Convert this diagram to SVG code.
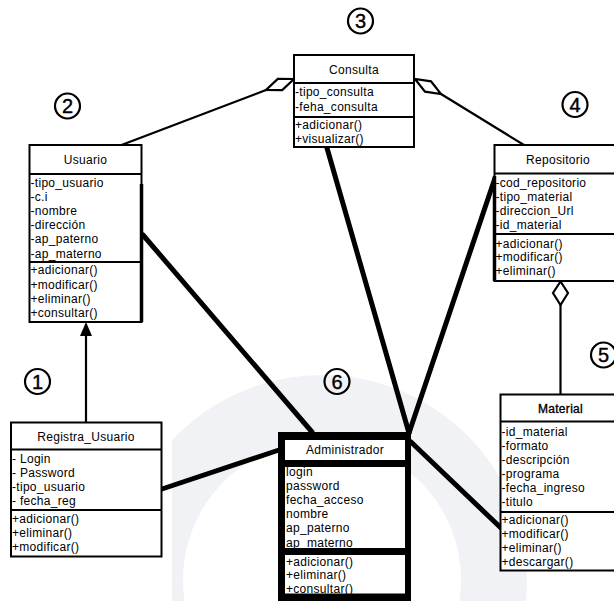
<svg xmlns="http://www.w3.org/2000/svg" width="614" height="601" viewBox="0 0 614 601">
  <style>
    text { font-family: "Liberation Sans", Arial, sans-serif; font-size: 12px; fill: #000; letter-spacing: 0.3px; }
    .title { text-anchor: middle; }
    .dark { stroke: #000; stroke-width: 0.35px; }
    .box { fill: #fff; stroke: #000; stroke-width: 2; }
    .sep { stroke: #000; stroke-width: 2; }
    .edge { stroke: #000; stroke-width: 3.5; }
    .thin { stroke: #000; stroke-width: 2.2; fill: none; }
    .thick { stroke: #000; stroke-width: 5; stroke-linecap: round; fill: none; }
    .hollow { fill: #fff; stroke: #000; stroke-width: 2.2; stroke-linejoin: miter; }
    .badge circle { fill: none; stroke: #000; stroke-width: 2.2; }
    .badge text { font-size: 20px; text-anchor: middle; letter-spacing: 0; stroke: #000; stroke-width: 0.4px; }
  </style>

  <!-- faint seal in the background, cut off on the left -->
  <circle cx="322" cy="580" r="172" fill="none" stroke="#f0f2f6" stroke-width="66"/>
  <rect x="0" y="360" width="172" height="241" fill="#fff"/>

  <!-- connectors -->
  <g id="connectors">
    <!-- Consulta aggregations -->
    <line class="thin" x1="121.5" y1="145" x2="266" y2="90"/>
    <polygon class="hollow" points="294,79 282.2,90.1 266,90 277.8,78.9"/>
    <line class="thin" x1="441" y1="94" x2="524" y2="145"/>
    <polygon class="hollow" points="415,79 425,91.7 441,94 431,81.3"/>
    <!-- Registra_Usuario generalizes Usuario -->
    <line class="thin" x1="86" y1="422.5" x2="86" y2="334"/>
    <polygon points="86,322 80,336 92,336" fill="#000"/>
    <!-- Repositorio aggregates Material -->
    <line class="thin" x1="560.5" y1="305" x2="560.5" y2="394.5"/>
    <polygon class="hollow" points="560.5,281.5 553,293 560.5,305 568,293"/>
    <!-- Administrador associations -->
    <line class="thick" x1="143" y1="235" x2="312" y2="432"/>
    <line class="thick" x1="327" y1="148" x2="409" y2="433"/>
    <line class="thick" x1="409" y1="433" x2="495" y2="178"/>
    <line class="thick" x1="411" y1="442" x2="501" y2="528"/>
    <line class="thick" x1="162" y1="489" x2="279" y2="450"/>
  </g>

  <!-- Consulta -->
  <g id="consulta">
    <rect class="box" x="294" y="55" width="120" height="92"/>
    <line class="sep" x1="294" y1="83" x2="414" y2="83"/>
    <line class="sep" x1="294" y1="117" x2="414" y2="117"/>
    <text class="title" x="354" y="74">Consulta</text>
    <text x="295" y="96">-tipo_consulta</text>
    <text x="295" y="110.5">-feha_consulta</text>
    <text x="295" y="129">+adicionar()</text>
    <text x="295" y="143.3">+visualizar()</text>
  </g>

  <!-- Usuario -->
  <g id="usuario">
    <rect class="box" x="29.5" y="145" width="112" height="177"/>
    <line class="sep" x1="29.5" y1="174" x2="141.5" y2="174"/>
    <line class="sep" x1="29.5" y1="262" x2="141.5" y2="262"/>
    <line class="edge" x1="141.5" y1="184" x2="141.5" y2="322"/>
    <text class="title" x="85.5" y="163.5">Usuario</text>
    <text x="30.5" y="186.5">-tipo_usuario</text>
    <text x="30.5" y="200.7">-c.i</text>
    <text x="30.5" y="214.9">-nombre</text>
    <text x="30.5" y="229.1">-dirección</text>
    <text x="30.5" y="243.3">-ap_paterno</text>
    <text x="30.5" y="257.5">-ap_materno</text>
    <text x="30.5" y="274.3">+adicionar()</text>
    <text x="30.5" y="288.5">+modificar()</text>
    <text x="30.5" y="302.7">+eliminar()</text>
    <text x="30.5" y="316.9">+consultar()</text>
  </g>

  <!-- Repositorio -->
  <g id="repositorio">
    <rect class="box" x="494.5" y="145" width="125" height="136"/>
    <line class="sep" x1="494.5" y1="173.5" x2="619.5" y2="173.5"/>
    <line class="sep" x1="494.5" y1="234" x2="619.5" y2="234"/>
    <line class="edge" x1="494.5" y1="176" x2="494.5" y2="281"/>
    <text class="title" x="558" y="163.5">Repositorio</text>
    <text x="495.5" y="186.7">-cod_repositorio</text>
    <text x="495.5" y="201.2">-tipo_material</text>
    <text x="495.5" y="215.2">-direccion_Url</text>
    <text x="495.5" y="229.4">-id_material</text>
    <text x="495.5" y="247.5">+adicionar()</text>
    <text x="495.5" y="261">+modificar()</text>
    <text x="495.5" y="275">+eliminar()</text>
  </g>

  <!-- Registra_Usuario -->
  <g id="registra-usuario">
    <rect class="box" x="11" y="422.5" width="150.5" height="134"/>
    <line class="sep" x1="11" y1="449.5" x2="161.5" y2="449.5"/>
    <line class="sep" x1="11" y1="510" x2="161.5" y2="510"/>
    <text class="title" x="86" y="441">Registra_Usuario</text>
    <text x="12" y="463">- Login</text>
    <text x="12" y="477">- Password</text>
    <text x="12" y="491.3">-tipo_usuario</text>
    <text x="12" y="505.3">- fecha_reg</text>
    <text x="12" y="523.3">+adicionar()</text>
    <text x="12" y="537.3">+eliminar()</text>
    <text x="12" y="551.3">+modificar()</text>
  </g>

  <!-- Material -->
  <g id="material">
    <rect class="box" x="500.5" y="394.5" width="120" height="176"/>
    <line class="sep" x1="500.5" y1="421.5" x2="620.5" y2="421.5"/>
    <line class="sep" x1="500.5" y1="512" x2="620.5" y2="512"/>
    <text class="title dark" x="560.5" y="412.5">Material</text>
    <text x="501.5" y="435.5">-id_material</text>
    <text x="501.5" y="450">-formato</text>
    <text x="501.5" y="464">-descripción</text>
    <text x="501.5" y="478">-programa</text>
    <text x="501.5" y="491.7">-fecha_ingreso</text>
    <text x="501.5" y="505.7">-titulo</text>
    <text x="501.5" y="523.5">+adicionar()</text>
    <text x="501.5" y="537.5">+modificar()</text>
    <text x="501.5" y="551.5">+eliminar()</text>
    <text x="501.5" y="565.7">+descargar()</text>
  </g>

  <!-- Administrador: heavy frame with white compartments -->
  <g id="administrador">
    <rect x="278" y="432" width="133" height="172" fill="#000"/>
    <rect x="285" y="440" width="120" height="20" fill="#fff"/>
    <rect x="285" y="467" width="120" height="81" fill="#fff"/>
    <text class="title" x="345" y="453.5">Administrador</text>
    <text x="286" y="475.7">login</text>
    <text x="286" y="490">password</text>
    <text x="286" y="504">fecha_acceso</text>
    <text x="286" y="518">nombre</text>
    <text x="286" y="532.3">ap_paterno</text>
    <text x="286" y="546.5">ap_materno</text>
    <rect x="278" y="548" width="133" height="7" fill="#000"/>
    <rect x="285" y="555" width="120" height="38.5" fill="#fff"/>
    <text x="286" y="565.5">+adicionar()</text>
    <text x="286" y="579">+eliminar()</text>
    <text x="286" y="593">+consultar()</text>
  </g>

  <!-- numbered markers -->
  <g id="badge-1" class="badge"><circle cx="37.5" cy="381.5" r="12.5"/><text x="37.5" y="388.7">1</text></g>
  <g id="badge-2" class="badge"><circle cx="67.5" cy="106" r="12.5"/><text x="67.5" y="113.2">2</text></g>
  <g id="badge-3" class="badge"><circle cx="360.5" cy="21" r="12.5"/><text x="360.5" y="28.2">3</text></g>
  <g id="badge-4" class="badge"><circle cx="575" cy="104.5" r="12.5"/><text x="575" y="111.7">4</text></g>
  <g id="badge-5" class="badge"><circle cx="603.5" cy="355" r="12.5"/><text x="603.5" y="362.2">5</text></g>
  <g id="badge-6" class="badge"><circle cx="337" cy="381.5" r="12.5"/><text x="337" y="388.7">6</text></g>
</svg>
